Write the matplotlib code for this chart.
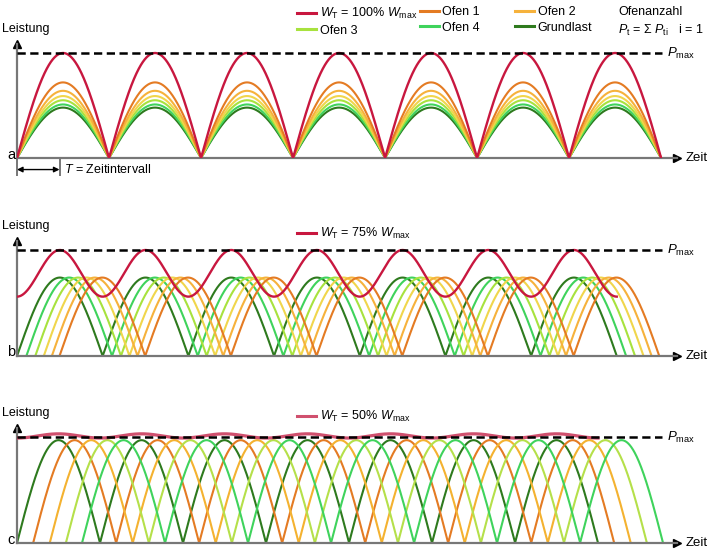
import numpy as np
import matplotlib.pyplot as plt
from matplotlib import font_manager

# ---------------------------------------------------------------- fonts
installed = {f.name for f in font_manager.fontManager.ttflist}
FONT = 'Liberation Sans Narrow' if 'Liberation Sans Narrow' in installed else 'Liberation Sans'
plt.rcParams['font.family'] = [FONT, 'DejaVu Sans']
plt.rcParams['mathtext.fontset'] = 'custom'
plt.rcParams['mathtext.rm'] = FONT
plt.rcParams['mathtext.it'] = FONT + ':italic'
plt.rcParams['mathtext.bf'] = FONT + ':bold'

# ---------------------------------------------------------------- data
# time in units of T (Zeitintervall), power as fraction of P_max
N_HUMPS = 7
P_MAX = 1.0
PMAX_END = 15.18          # end of the dashed P_max line

# panel a: all ovens in phase
a_labels = ['Ofen 1', 'Ofen 2', '', 'Ofen 3', 'Ofen 4', 'Grundlast']
a_peaks = [0.72, 0.64, 0.59, 0.55, 0.51, 0.48]
a_width = 2.165
a_total_peak = 1.0

# panel b: ovens shifted, W_T = 75 %
b_shifts = [1.0, 0.82, 0.63, 0.43, 0.22, 0.0]
b_peak = 0.74
b_width = 2.016
b_total = (0.56, 1.0)      # min, max

# panel c: five ovens, W_T = 50 %
c_shifts = [0.0, 0.38, 0.77, 1.15, 1.53]
c_peak = 0.97
c_width = 1.953
c_total = (0.99, 1.03)

# ---------------------------------------------------------------- styles
RED = '#C8173F'
COL6 = ['#E47B23', '#F6B23C', '#F0D64C', '#A8E23E', '#3FD35C', '#2E7A1E']
COL_C = ['#2E7A1E', '#E47B23', '#F4B230', '#B5E04A', '#3FD35C']
AXCOL = '#777777'
FS = 9
LW = 1.5

W, H = 709, 553
T_PX = 42.5
fig = plt.figure(figsize=(W / 100, H / 100), dpi=100)


def fx(px):
    return px / W


def fy(py):
    return 1 - py / H


def make_axes(base, pmax_py, ymax_px=9):
    left, right = 17, 677
    top = pmax_py - ymax_px
    ax = fig.add_axes([fx(left), fy(base), (right - left) / W, (base - top) / H])
    ax.set_xlim(0, (right - left) / T_PX)
    ax.set_ylim(0, (base - top) / (base - pmax_py))
    for s in ('top', 'right'):
        ax.spines[s].set_visible(False)
    for s in ('left', 'bottom'):
        ax.spines[s].set_color(AXCOL)
        ax.spines[s].set_linewidth(1.6)
    ax.set_xticks([])
    ax.set_yticks([])
    ax.patch.set_alpha(0)
    ax.plot(1, 0, '>', color='k', ms=6, transform=ax.get_yaxis_transform(), clip_on=False)
    ax.plot(0, 1, '^', color='k', ms=6, transform=ax.get_xaxis_transform(), clip_on=False)
    ax.hlines(P_MAX, 0, PMAX_END, colors='k', lw=1.8, linestyles=(0, (3.3, 1.8)), zorder=5)
    ax.text(PMAX_END + 0.12, P_MAX, r'$P_{\mathrm{max}}$', fontsize=FS + 0.5, va='center', ha='left')
    fig.text(fx(686), fy(base), 'Zeit', fontsize=FS + 0.5, va='center', ha='left')
    fig.text(fx(2), fy(pmax_py - 24), 'Leistung', fontsize=FS, va='center', ha='left')
    return ax


def humps(start, width, peak):
    x = np.linspace(start, start + N_HUMPS * width, 3000)
    return x, peak * np.abs(np.sin(np.pi * (x - start) / width))


# ---------------------------------------------------------------- panel a
ax = make_axes(158, 53)
fig.text(fx(7), fy(155), 'a', fontsize=FS + 1.5, va='center')
handles = {}
for lab, pk, col in zip(a_labels[::-1], a_peaks[::-1], COL6[::-1]):
    x, y = humps(0, a_width, pk)
    ln, = ax.plot(x, y, color=col, lw=LW)
    if lab:
        handles[lab] = ln
x, y = humps(0, a_width, a_total_peak)
ln_a, = ax.plot(x, y, color=RED, lw=LW + 0.2, zorder=4)

# T annotation
ax.vlines([0, 1], -0.17, 0, colors=AXCOL, lw=1.4, clip_on=False)
ax.annotate('', xy=(0, -0.11), xytext=(1, -0.11), annotation_clip=False,
            arrowprops=dict(arrowstyle='<|-|>', color='k', lw=1.0, mutation_scale=8,
                            shrinkA=0, shrinkB=0))
ax.text(1.1, -0.11, r'$T$ = Zeitintervall', fontsize=FS, va='center', ha='left')

# legend columns
leg_kw = dict(loc='upper left', frameon=False, borderpad=0, borderaxespad=0,
              handlelength=1.55, handletextpad=0.25, labelspacing=0.3, fontsize=FS)
cols = [(297, [ln_a, handles['Ofen 3']], [r'$W_{\mathrm{T}}$ = 100% $W_{\mathrm{max}}$', 'Ofen 3']),
        (420, [handles['Ofen 1'], handles['Ofen 4']], ['Ofen 1', 'Ofen 4']),
        (515, [handles['Ofen 2'], handles['Grundlast']], ['Ofen 2', 'Grundlast'])]
for px, hs, ls in cols:
    lg = fig.legend(hs, ls, bbox_to_anchor=(fx(px), fy(6)), **leg_kw)
    for h in lg.legend_handles:
        h.set_linewidth(2.2)
fig.text(fx(618), fy(12), 'Ofenanzahl', fontsize=FS, va='center')
fig.text(fx(618), fy(30), r'$P_{\mathrm{t}}$ = Σ $P_{\mathrm{ti}}$   i = 1', fontsize=FS, va='center')

# ---------------------------------------------------------------- panel b
ax = make_axes(356, 250)
fig.text(fx(7), fy(352), 'b', fontsize=FS + 1.5, va='center')
for sh, col in zip(b_shifts[::-1], COL6[::-1]):
    x, y = humps(sh, b_width, b_peak)
    ax.plot(x, y, color=col, lw=LW)
x = np.linspace(0, N_HUMPS * b_width, 3000)
mid, amp = (b_total[0] + b_total[1]) / 2, (b_total[1] - b_total[0]) / 2
ln_b, = ax.plot(x, mid - amp * np.cos(2 * np.pi * x / b_width), color=RED, lw=LW + 0.2, zorder=4)
lg = fig.legend([ln_b], [r'$W_{\mathrm{T}}$ = 75% $W_{\mathrm{max}}$'],
                bbox_to_anchor=(fx(297), fy(226)), **leg_kw)
lg.legend_handles[0].set_linewidth(2.2)

# ---------------------------------------------------------------- panel c
ax = make_axes(543, 437)
fig.text(fx(7), fy(540), 'c', fontsize=FS + 1.5, va='center')
for sh, col in zip(c_shifts, COL_C):
    x, y = humps(sh, c_width, c_peak)
    ax.plot(x, y, color=col, lw=LW)
x = np.linspace(0, N_HUMPS * c_width, 3000)
mid, amp = (c_total[0] + c_total[1]) / 2, (c_total[1] - c_total[0]) / 2
ln_c, = ax.plot(x, mid - amp * np.cos(2 * np.pi * x / c_width), color='#D0506E',
                lw=LW + 0.8, zorder=4)
lg = fig.legend([ln_c], [r'$W_{\mathrm{T}}$ = 50% $W_{\mathrm{max}}$'],
                bbox_to_anchor=(fx(297), fy(409)), **leg_kw)
lg.legend_handles[0].set_linewidth(2.2)

fig.savefig('out.png', dpi=100, facecolor='white')
